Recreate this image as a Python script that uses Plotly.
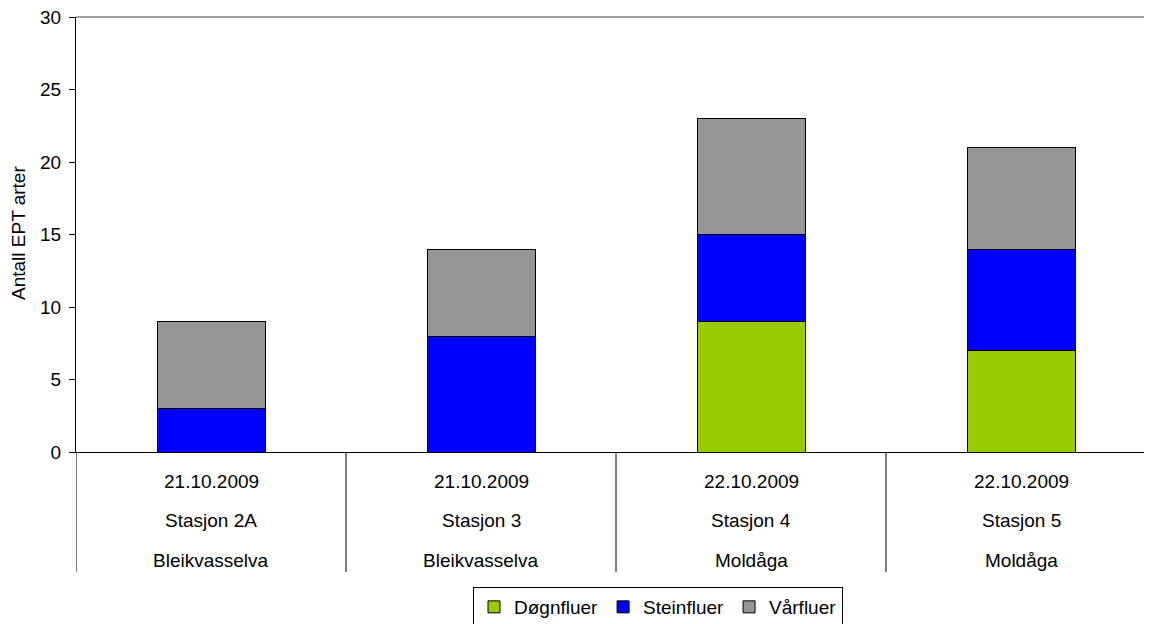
import plotly.graph_objects as go

categories = ["Stasjon 2A", "Stasjon 3", "Stasjon 4", "Stasjon 5"]
dates = ["21.10.2009", "21.10.2009", "22.10.2009", "22.10.2009"]
rivers = ["Bleikvasselva", "Bleikvasselva", "Moldåga", "Moldåga"]

dognfluer = [0, 0, 9, 7]
steinfluer = [3, 8, 6, 7]
varfluer = [6, 6, 8, 7]

series = [
    ("Døgnfluer", dognfluer, "#99CC00"),
    ("Steinfluer", steinfluer, "#0000FF"),
    ("Vårfluer", varfluer, "#969696"),
]

FONT = "Liberation Sans, Arial, sans-serif"
FS = 19
OFF = 8  # default page body margin
W, H = 1152, 624
ML, MR, MT, MB = 68, 4, 9, 180
plot_w = W - ML - MR
plot_h = H - MT - MB

x_idx = list(range(len(categories)))

fig = go.Figure()
for name, vals, col in series:
    fig.add_trace(go.Bar(
        x=x_idx, y=vals, name=name, width=0.4,
        marker=dict(color=col, line=dict(color="black", width=1)),
    ))

def py(screen_y):
    return (OFF + MT + plot_h - screen_y) / plot_h

def px(screen_x):
    return (screen_x - OFF - ML) / plot_w

annotations = []
for i in x_idx:
    for txt, ypix in ((dates[i], 481), (categories[i], 520), (rivers[i], 560)):
        annotations.append(dict(
            x=i, xref="x", y=py(ypix), yref="paper", text=txt,
            showarrow=False, xanchor="center", yanchor="middle",
            font=dict(family=FONT, size=FS, color="black"),
        ))
annotations.append(dict(
    x=px(18), xref="paper", y=py(233), yref="paper",
    text="Antall EPT arter", textangle=-90, showarrow=False,
    xanchor="center", yanchor="middle",
    font=dict(family=FONT, size=FS, color="black"),
))

shapes = []
for k in range(len(categories) + 1):
    shapes.append(dict(
        type="line", xref="x", yref="paper",
        x0=k - 0.5, x1=k - 0.5, y0=0, y1=py(572),
        line=dict(color="black", width=1),
    ))
shapes.append(dict(type="line", xref="paper", yref="paper", x0=0, x1=1, y0=1, y1=1,
                   line=dict(color="#808080", width=1.5)))

fig.update_layout(
    width=W, height=H, autosize=False,
    margin=dict(l=ML, r=MR, t=MT, b=MB, autoexpand=False),
    barmode="stack",
    plot_bgcolor="white", paper_bgcolor="white",
    font=dict(family=FONT, size=FS, color="black"),
    showlegend=True,
    legend=dict(
        orientation="h", traceorder="normal",
        x=px(658), xanchor="center",
        y=py(587), yanchor="top",
        bordercolor="black", borderwidth=1,
        font=dict(family=FONT, size=FS, color="black"),
        itemwidth=30, tracegroupgap=0,
    ),
    xaxis=dict(
        range=[-0.5, len(categories) - 0.5],
        showticklabels=False, ticks="", showgrid=False, zeroline=False,
        showline=True, linecolor="black", linewidth=1,
    ),
    yaxis=dict(
        range=[0, 30], dtick=5, ticks="outside", ticklen=6, tickcolor="black",
        showgrid=False, zeroline=False, showline=True, linecolor="black",
        linewidth=1, ticklabelstandoff=4, ticklabeloverflow="allow",
        tickfont=dict(family=FONT, size=FS, color="black"),
    ),
    annotations=annotations,
    shapes=shapes,
)

fig.write_html("out.html")
